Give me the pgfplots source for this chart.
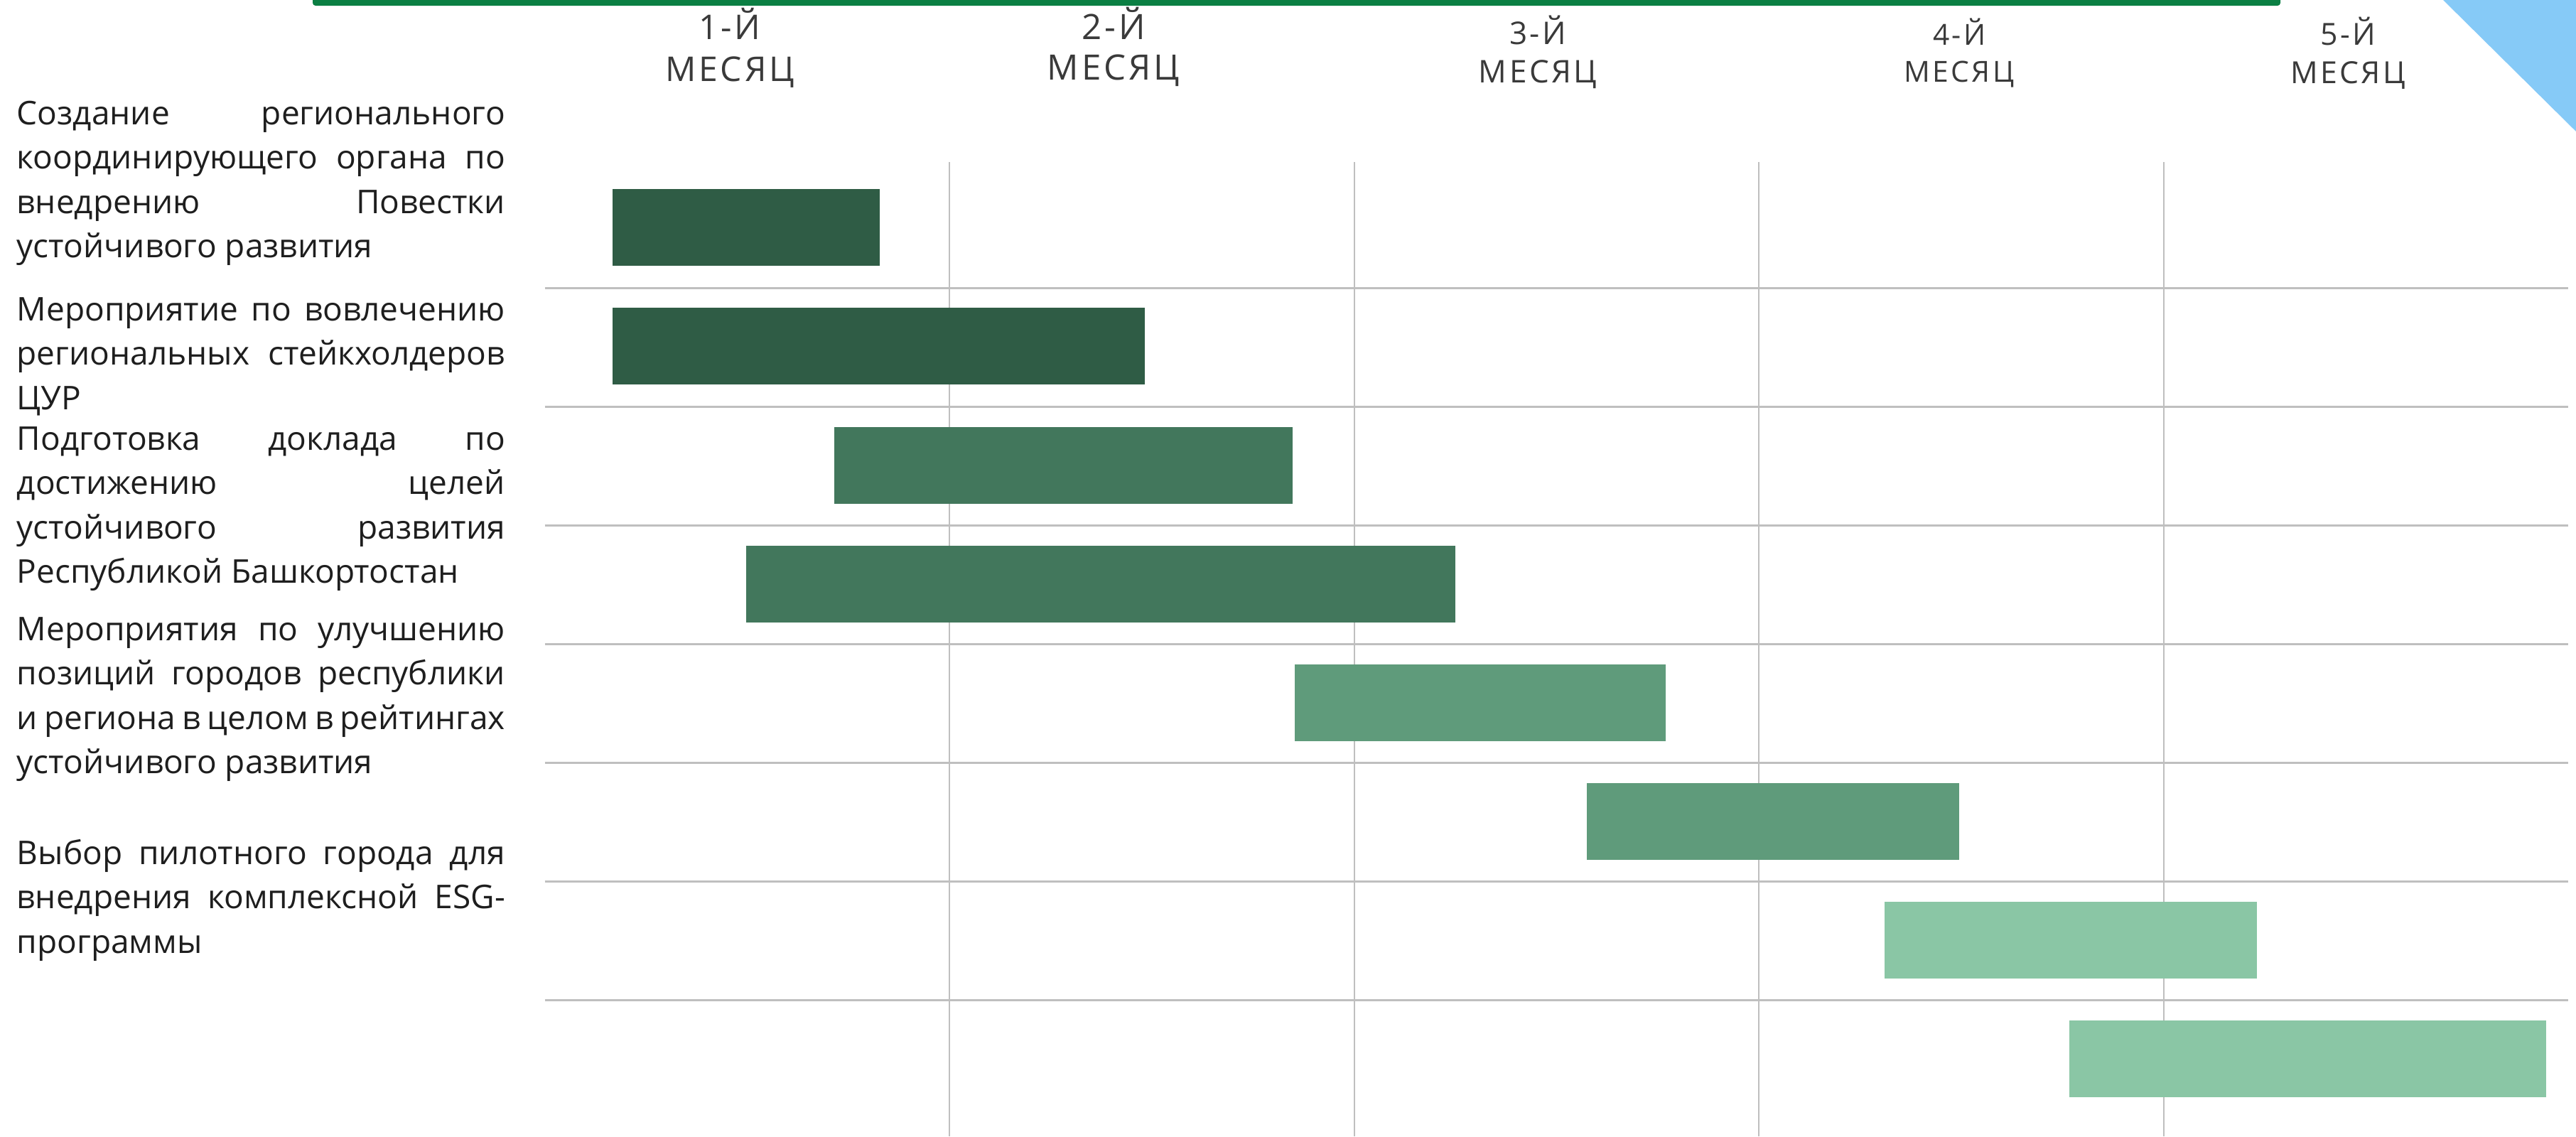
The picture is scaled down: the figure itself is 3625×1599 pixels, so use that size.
\documentclass[border=0pt]{standalone}
\usepackage{pgfplots}
\pgfplotsset{compat=1.18}
\usepackage{fontspec}
\setmainfont{Open Sans}
\newfontfamily\hdrfont[LetterSpace=8]{Open Sans}
\definecolor{barA}{HTML}{2F5C45}
\definecolor{barB}{HTML}{42775C}
\definecolor{barC}{HTML}{5F9B7B}
\definecolor{barD}{HTML}{8AC6A5}
\definecolor{topbar}{HTML}{0B7F43}
\definecolor{tri}{HTML}{86CAF7}
\definecolor{gridc}{HTML}{BFBFBF}
\definecolor{txt}{HTML}{1E1E1E}
\definecolor{hdrc}{HTML}{3A3A3A}
\newcommand\lbl{\fontsize{11.5pt}{14pt}\selectfont}
% justified line / left line, y = baseline in px
\newcommand\jline[2]{\node[anchor=base west, inner sep=0pt, font=\lbl, text=txt] at (23,#1) {\makebox[171.75pt][s]{#2}};}
\newcommand\lline[2]{\node[anchor=base west, inner sep=0pt, font=\lbl, text=txt] at (23,#1) {#2};}
% header: x, baseline1, baseline2, size(pt), number
\newcommand\hdr[5]{%
  \node[anchor=base, inner sep=0pt, font=\hdrfont\fontsize{#4}{#4}\selectfont, text=hdrc] at (#1,#2) {#5-Й};
  \node[anchor=base, inner sep=0pt, font=\hdrfont\fontsize{#4}{#4}\selectfont, text=hdrc] at (#1,#3) {МЕСЯЦ};}
\begin{document}
\begin{tikzpicture}[x=0.25pt,y=-0.25pt]
\useasboundingbox (0,0) rectangle (3625,1599);
\fill[white] (0,0) rectangle (3625,1599);
% top green bar
\fill[topbar, rounded corners=1pt] (440,-12) rectangle (3209,8);
% blue triangle
\fill[tri] (3438,0) -- (3625,0) -- (3625,185) -- cycle;
% headers
\hdr{1027}{55}{114}{12pt}{1}
\hdr{1567}{55}{112}{12.3pt}{2}
\hdr{2164}{62}{116}{11pt}{3}
\hdr{2757}{63}{115}{10.2pt}{4}
\hdr{3304}{63}{117}{10.7pt}{5}
% left labels
\jline{175}{Создание регионального}
\jline{237.5}{координирующего органа по}
\jline{300}{внедрению Повестки}
\lline{362.5}{устойчивого развития}
\jline{451}{Мероприятие по вовлечению}
\jline{513.5}{региональных стейкхолдеров}
\lline{576}{ЦУР}
\jline{633}{Подготовка доклада по}
\jline{695.5}{достижению целей}
\jline{758}{устойчивого развития}
\lline{820.5}{Республикой Башкортостан}
\jline{901}{Мероприятия по улучшению}
\jline{963.5}{позиций городов республики}
\jline{1026}{и региона в целом в рейтингах}
\lline{1088.5}{устойчивого развития}
\jline{1216}{Выбор пилотного города для}
\jline{1278.5}{внедрения комплексной ESG-}
\lline{1341}{программы}
\begin{axis}[
  at={(191.625pt,-399.75pt)}, anchor=south west,
  scale only axis, width=711.875pt, height=342.75pt,
  xmin=0, xmax=5, ymin=-8.645, ymax=-0.436,
  xtick={1,2,3,4}, ytick={-7.5,-6.5,...,-1.5},
  xmajorgrids, ymajorgrids,
  x grid style={color=gridc, line width=0.5pt},
  y grid style={color=gridc, line width=0.75pt},
  axis line style={draw=none},
  major tick length=0pt,
  xticklabels={}, yticklabels={},
  clip=false,
]
% each bar: start, end of the task (months); rows 1..8 top to bottom
\addplot[draw=none, fill=barA] coordinates {(0.168,-0.6635) (0.828,-0.6635) (0.828,-1.308) (0.168,-1.308)} -- cycle;
\addplot[draw=none, fill=barA] coordinates {(0.168,-1.6635) (1.483,-1.6635) (1.483,-2.308) (0.168,-2.308)} -- cycle;
\addplot[draw=none, fill=barB] coordinates {(0.716,-2.67) (1.848,-2.67) (1.848,-3.314) (0.716,-3.314)} -- cycle;
\addplot[draw=none, fill=barB] coordinates {(0.497,-3.67) (2.250,-3.67) (2.250,-4.314) (0.497,-4.314)} -- cycle;
\addplot[draw=none, fill=barC] coordinates {(1.853,-4.67) (2.770,-4.67) (2.770,-5.314) (1.853,-5.314)} -- cycle;
\addplot[draw=none, fill=barC] coordinates {(2.575,-5.67) (3.495,-5.67) (3.495,-6.314) (2.575,-6.314)} -- cycle;
\addplot[draw=none, fill=barD] coordinates {(3.310,-6.67) (4.230,-6.67) (4.230,-7.314) (3.310,-7.314)} -- cycle;
\addplot[draw=none, fill=barD] coordinates {(3.768,-7.67) (4.945,-7.67) (4.945,-8.314) (3.768,-8.314)} -- cycle;
\end{axis}
\end{tikzpicture}
\end{document}
